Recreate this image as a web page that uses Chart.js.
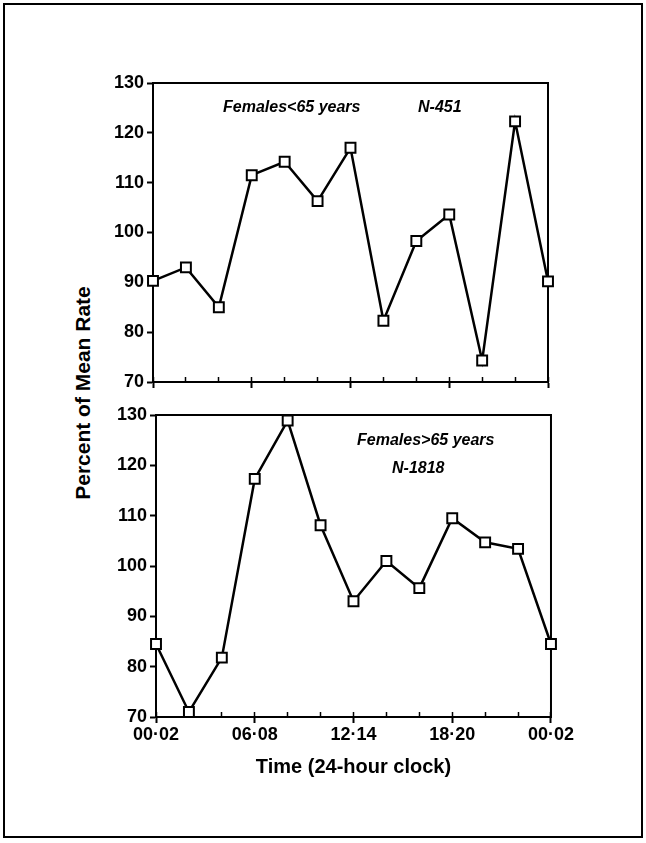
<!DOCTYPE html>
<html>
<head>
<meta charset="utf-8">
<script src="https://cdn.jsdelivr.net/npm/chart.js@4.4.1/dist/chart.umd.min.js"></script>
<style>
  body { margin: 0; background: #fff; }
  #page { position: relative; width: 646px; height: 843px; overflow: hidden; }
  #frame { position: absolute; left: 3px; top: 3px; width: 636px; height: 831px; border: 2px solid #000; }
  canvas { position: absolute; left: 95px; }
  .note { position: absolute; white-space: nowrap; line-height: 18px; color: #000;
    font: italic bold 16px "Liberation Sans Narrow", "Liberation Sans", Arial, sans-serif; }
  #ylabel { position: absolute; left: -67px; top: 381px; width: 300px; text-align: center; line-height: 24px;
    font: bold 21px "Liberation Sans Narrow", "Liberation Sans", Arial, sans-serif;
    transform: rotate(-90deg); }
</style>
</head>
<body>
<div id="page">
  <div id="frame"></div>
  <canvas id="top" width="470" height="340" style="top:65px"></canvas>
  <canvas id="bottom" width="480" height="400" style="top:400px"></canvas>
  <div id="ylabel">Percent of Mean Rate</div>
  <div class="note" style="left:223px; top:98px">Females&lt;65 years</div>
  <div class="note" style="left:418px; top:98px">N-451</div>
  <div class="note" style="left:357px; top:431px">Females&gt;65 years</div>
  <div class="note" style="left:392px; top:459px">N-1818</div>
</div>
<script>
const FONT = '"Liberation Sans Narrow", "Liberation Sans", Arial, sans-serif';

// two-hour bins, wrapping back to midnight
const timeBins = [
  "00·02", "02·04", "04·06", "06·08", "08·10", "10·12", "12·14",
  "14·16", "16·18", "18·20", "20·22", "22·24", "00·02",
];

// percent of mean rate
const femalesUnder65 = [90.3, 93, 85, 111.5, 114.2, 106.3, 117, 82.3, 98.3, 103.6, 74.3, 122.3, 90.2];
const femalesOver65 = [84.5, 71, 81.8, 117.3, 128.9, 108.1, 93, 101, 95.6, 109.5, 104.7, 103.4, 84.5];

const yMin = 70;
const yMax = 130;
const yStep = 10;
const labelEvery = 3;

const framePlugin = {
  id: "frame",
  beforeDatasetsDraw(chart) {
    const { ctx, chartArea } = chart;
    ctx.save();
    ctx.strokeStyle = "#000";
    ctx.lineWidth = 2;
    ctx.strokeRect(chartArea.left, chartArea.top, chartArea.right - chartArea.left, chartArea.bottom - chartArea.top);
    ctx.restore();
  },
};

const makePanel = (canvas, values, opts) => {
  return new Chart(canvas, {
    type: "line",
    data: {
      labels: timeBins,
      datasets: [{
        data: values,
        borderColor: "#000",
        borderWidth: 2.5,
        tension: 0,
        pointStyle: "rect",
        pointRadius: 7,
        pointBorderWidth: 2,
        pointBackgroundColor: "#fff",
        pointBorderColor: "#000",
        clip: false,
      }],
    },
    options: {
      responsive: false,
      animation: false,
      layout: { padding: { top: opts.padTop, right: 17, bottom: 0, left: 0 } },
      plugins: { legend: { display: false }, tooltip: { enabled: false } },
      scales: {
        // small inside ticks at every bin (negative length points them up into the plot)
        xin: {
          type: "category",
          position: "bottom",
          weight: 0,
          offset: false,
          grid: { drawOnChartArea: false, tickLength: -5, tickWidth: 1.5, tickColor: "#000" },
          border: { display: false },
          ticks: { display: false, autoSkip: false },
          afterFit: (s) => { s.height = 0; },
        },
        x: {
          type: "category",
          position: "bottom",
          weight: 1,
          offset: false,
          grid: {
            drawOnChartArea: false,
            tickLength: 6,
            tickWidth: 2,
            tickColor: (ctx) => (ctx.index % labelEvery === 0 ? "#000" : "rgba(0,0,0,0)"),
          },
          border: { display: true, color: "#000", width: 2 },
          ticks: {
            autoSkip: false,
            maxRotation: 0,
            padding: 1,
            color: "#000",
            font: { family: FONT, size: 18, weight: "bold" },
            callback: function (v, i) {
              return opts.showLabels && i % labelEvery === 0 ? this.getLabelForValue(v) : "";
            },
          },
          title: {
            display: !!opts.xTitle,
            text: opts.xTitle || "",
            color: "#000",
            font: { family: FONT, size: 20, weight: "bold" },
            padding: { top: 0, bottom: 21 },
          },
          afterFit: (s) => { s.height = opts.xHeight; },
        },
        y: {
          position: "left",
          min: yMin,
          max: yMax,
          grid: { drawOnChartArea: false, tickLength: 6, tickWidth: 2, tickColor: "#000" },
          border: { display: true, color: "#000", width: 2 },
          ticks: {
            stepSize: yStep,
            padding: 3,
            color: "#000",
            font: { family: FONT, size: 18, weight: "bold" },
          },
          afterFit: (s) => { s.width = opts.yWidth; },
        },
      },
    },
    plugins: [framePlugin],
  });
};

makePanel(document.getElementById("top"), femalesUnder65, {
  padTop: 18, xHeight: 23, yWidth: 58, showLabels: false,
});

makePanel(document.getElementById("bottom"), femalesOver65, {
  padTop: 15, xHeight: 83, yWidth: 61, showLabels: true, xTitle: "Time (24-hour clock)",
});
</script>
</body>
</html>
